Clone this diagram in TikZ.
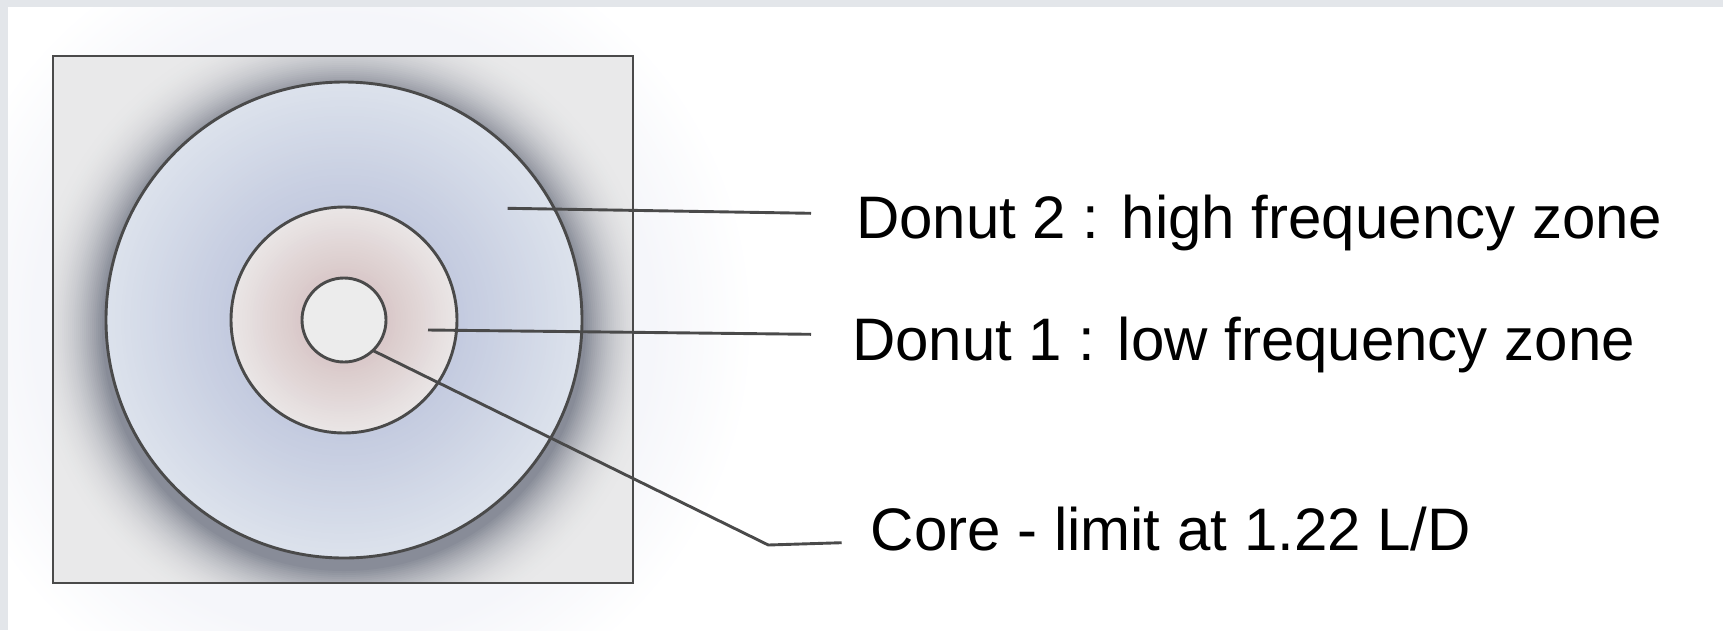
\documentclass[tikz,border=0pt]{standalone}
\usepackage{fontspec}
\setmainfont{Liberation Sans}
\definecolor{framegray}{HTML}{E3E6EA}
\definecolor{glowc}{HTML}{F5F6FA}
\definecolor{sqfill}{HTML}{E9E9EA}
\definecolor{shadowc}{HTML}{888C98}
\definecolor{outeredge}{HTML}{DCE2EC}
\definecolor{outerinner}{HTML}{C3CADF}
\definecolor{inneredge}{HTML}{EAE6E6}
\definecolor{innercore}{HTML}{D8C6C7}
\definecolor{corefill}{HTML}{ECECEC}
\definecolor{strokec}{HTML}{4A4A4A}
\tikzset{
  outline/.style={draw=strokec, line width=2.9pt},
  leader/.style={draw=strokec, line width=2.9pt, line join=round},
  lbl/.style={font=\fontsize{60}{72}\selectfont, inner sep=0pt, text=black, anchor=base west}
}
\begin{document}
\begin{tikzpicture}[x=1pt,y=-1pt]
\useasboundingbox (0,0) rectangle (1723,630);
% screen frame and page
\fill[framegray] (0,0) rectangle (1723,630);
\fill[white] (8,7) rectangle (1723,630);
% soft glow around the square
\begin{scope}
  \clip (8,7) rectangle (1723,630);
  \foreach \i in {0,...,40} {
    \pgfmathsetmacro\r{410-\i*2.5}
    \pgfmathsetmacro\p{min(100,\i*100/40)}
    \fill[glowc!\p!white] (344,326) circle[radius=\r pt];
  }
\end{scope}
% square with shadow of the outer disc
\fill[sqfill] (53,56) rectangle (633,583);
\begin{scope}
  \clip (53,56) rectangle (633,583);
  \foreach \i in {0,...,40} {
    \pgfmathsetmacro\r{322-\i*2}
    \pgfmathsetmacro\p{100*(\i/40)^2.4}
    \fill[shadowc!\p!sqfill] (344,329) circle[radius=\r pt];
  }
\end{scope}
\draw[outline] (53,56) rectangle (633,583);
% outer donut
\foreach \i in {0,...,40} {
  \pgfmathsetmacro\r{238-\i*3.1}
  \pgfmathsetmacro\p{\i*100/40}
  \fill[outerinner!\p!outeredge] (344,320) circle[radius=\r pt];
}
\draw[outline] (344,320) circle[radius=238pt];
% inner donut
\foreach \i in {0,...,30} {
  \pgfmathsetmacro\r{114-\i*2.5}
  \pgfmathsetmacro\p{\i*100/30}
  \fill[innercore!\p!inneredge] (344,320) circle[radius=\r pt];
}
\draw[outline] (344,320) circle[radius=113pt];
% core
\fill[corefill] (344,320) circle[radius=42pt];
\draw[outline] (344,320) circle[radius=42pt];
% labels
\node[lbl] (t2) at (856,238.5) {Donut 2 : high frequency zone};
\node[lbl] (t1) at (852,360) {Donut 1 : low frequency zone};
\node[lbl] (t0) at (870.5,550.5) {Core - limit at 1.22 L/D};
% leader points
\coordinate (d2a) at (507.7,208.3);
\coordinate (d2b) at (811,213.3);
\coordinate (d1a) at (428,330);
\coordinate (d1b) at (811,334.3);
\coordinate (c0a) at (373.3,350.7);
\coordinate (c0m) at (768.3,545);
\coordinate (c0b) at (841.7,542.7);
\draw[leader] (d2a) -- (d2b);
\draw[leader] (d1a) -- (d1b);
\draw[leader] (c0a) -- (c0m) -- (c0b);
\end{tikzpicture}
\end{document}
